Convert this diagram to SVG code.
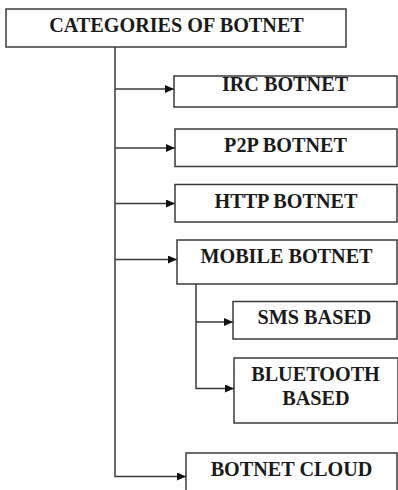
<svg xmlns="http://www.w3.org/2000/svg" width="398" height="490" viewBox="0 0 398 490">
<style>
.box{fill:#fff;stroke:#3a3a3a;stroke-width:1.5}
.t{font-family:"Liberation Serif","Times New Roman",serif;font-weight:bold;font-size:20.2px;fill:#1a1a1a;text-anchor:middle}
.c{fill:none;stroke:#3a3a3a;stroke-width:1.5}
</style>
<defs>
<marker id="ah" markerUnits="userSpaceOnUse" markerWidth="10" markerHeight="8" refX="9" refY="4" orient="auto">
<path d="M0,0 L9,4 L0,8 z" fill="#111"/>
</marker>
</defs>
<rect width="398" height="490" fill="#fff"/>
<g id="connectors">
<path class="c" d="M115,47 V476.5 H186" marker-end="url(#ah)"/>
<path class="c" d="M115,89 H174" marker-end="url(#ah)"/>
<path class="c" d="M115,148 H175" marker-end="url(#ah)"/>
<path class="c" d="M115,203.5 H175" marker-end="url(#ah)"/>
<path class="c" d="M115,259.5 H177" marker-end="url(#ah)"/>
<path class="c" d="M196,284 V388.5 H234" marker-end="url(#ah)"/>
<path class="c" d="M196,322 H233" marker-end="url(#ah)"/>
</g>
<g id="root"><rect class="box" x="6" y="9" width="340" height="38"/><text class="t" x="176.5" y="31.5">CATEGORIES OF BOTNET</text></g>
<g id="irc"><rect class="box" x="174" y="76" width="223" height="31"/><text class="t" x="285" y="90.5">IRC BOTNET</text></g>
<g id="p2p"><rect class="box" x="175" y="129" width="222" height="37.5"/><text class="t" x="285.5" y="152">P2P BOTNET</text></g>
<g id="http"><rect class="box" x="175" y="184.5" width="222" height="37.5"/><text class="t" x="286" y="207.5">HTTP BOTNET</text></g>
<g id="mobile"><rect class="box" x="177" y="240" width="220" height="44"/><text class="t" x="286.5" y="263">MOBILE BOTNET</text></g>
<g id="sms"><rect class="box" x="233" y="301.5" width="164" height="37.5"/><text class="t" x="314.5" y="324">SMS BASED</text></g>
<g id="bluetooth"><rect class="box" x="234" y="358" width="164" height="65"/><text class="t" x="315.5" y="380.5">BLUETOOTH</text><text class="t" x="316" y="405">BASED</text></g>
<g id="cloud"><rect class="box" x="186" y="453" width="211" height="45"/><text class="t" x="291.5" y="475.5">BOTNET CLOUD</text></g>
</svg>
